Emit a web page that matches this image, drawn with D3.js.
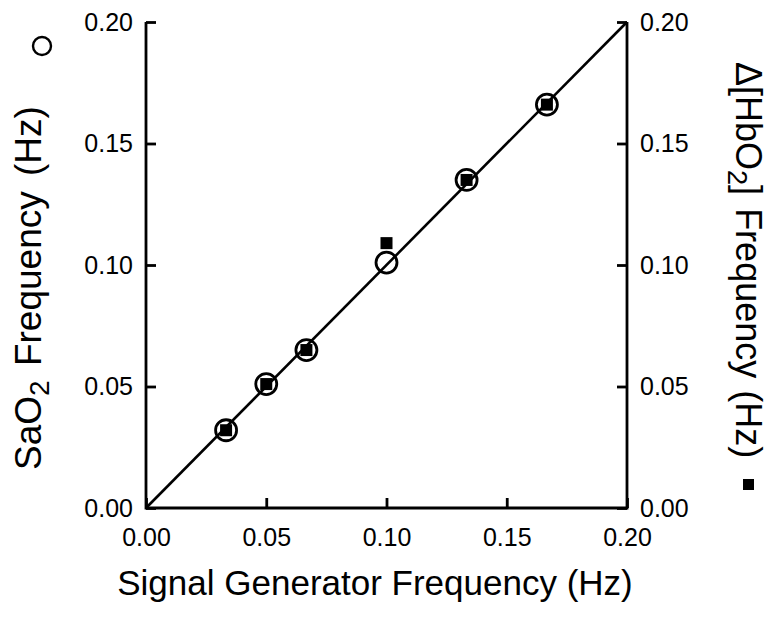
<!DOCTYPE html>
<html>
<head>
<meta charset="utf-8">
<script src="https://cdn.jsdelivr.net/npm/d3@7"></script>
<style>
  body { margin: 0; background: #fff; }
  text { font-family: "Liberation Sans", Arial, Helvetica, sans-serif; fill: #000; }
</style>
</head>
<body>
<div id="vis"></div>
<script>
// signal generator frequency (Hz)
var genFreq = [0.0333, 0.05, 0.0667, 0.10, 0.1333, 0.1667];
// SaO2 frequency (Hz), open circles
var sao2Freq = [0.032, 0.051, 0.065, 0.101, 0.135, 0.166];
// delta HbO2 frequency (Hz), filled squares
var hbo2Freq = [0.032, 0.051, 0.065, 0.109, 0.135, 0.166];
// identity line
var identity = [0, 0.20];
var ticks = [0, 0.05, 0.10, 0.15, 0.20];

var width = 768, height = 626;
var plot = {left: 146, right: 627, top: 22, bottom: 508};

var svg = d3.select("#vis").append("svg")
  .attr("width", width).attr("height", height);

var x = d3.scaleLinear().domain([0, 0.20]).range([plot.left, plot.right]);
var y = d3.scaleLinear().domain([0, 0.20]).range([plot.bottom, plot.top]);
var fmt = d3.format(".2f");

// axes: ticks point inward, no top spine
function styleAxis(g) {
  g.select(".domain").remove();
  g.selectAll(".tick line").attr("stroke", "#000").attr("stroke-width", 2.8);
  g.selectAll(".tick text").style("font-size", "25px").attr("fill", "#000");
}

svg.append("g")
  .attr("transform", "translate(0," + plot.bottom + ")")
  .call(d3.axisTop(x).tickValues(ticks).tickSize(10).tickFormat(""))
  .call(styleAxis);
svg.append("g")
  .attr("transform", "translate(0," + plot.bottom + ")")
  .call(d3.axisBottom(x).tickValues(ticks).tickSize(0).tickPadding(20).tickFormat(fmt))
  .call(styleAxis);

svg.append("g")
  .attr("transform", "translate(" + plot.left + ",0)")
  .call(d3.axisRight(y).tickValues(ticks).tickSize(10).tickFormat(""))
  .call(styleAxis);
svg.append("g")
  .attr("transform", "translate(" + plot.left + ",0)")
  .call(d3.axisLeft(y).tickValues(ticks).tickSize(0).tickPadding(13).tickFormat(fmt))
  .call(styleAxis);

svg.append("g")
  .attr("transform", "translate(" + plot.right + ",0)")
  .call(d3.axisLeft(y).tickValues(ticks).tickSize(10).tickFormat(""))
  .call(styleAxis);
svg.append("g")
  .attr("transform", "translate(" + plot.right + ",0)")
  .call(d3.axisRight(y).tickValues(ticks).tickSize(0).tickPadding(13).tickFormat(fmt))
  .call(styleAxis);

// spines: left, bottom, right
svg.append("path")
  .attr("fill", "none")
  .attr("stroke", "#000")
  .attr("stroke-width", 2.8)
  .attr("d", "M" + x(0) + "," + y(0.20) + "V" + y(0) + "H" + x(0.20) + "V" + y(0.20));

// identity line
svg.append("path")
  .datum(identity)
  .attr("fill", "none")
  .attr("stroke", "#000")
  .attr("stroke-width", 2.6)
  .attr("d", d3.line().x(d => x(d)).y(d => y(d)));

// circles
svg.selectAll(".sao2").data(genFreq).join("circle")
  .attr("class", "sao2")
  .attr("cx", d => x(d))
  .attr("cy", (d, i) => y(sao2Freq[i]))
  .attr("r", 10.5)
  .attr("fill", "none")
  .attr("stroke", "#000")
  .attr("stroke-width", 2.8);

// squares
var sq = 12;
svg.selectAll(".hbo2").data(genFreq).join("rect")
  .attr("class", "hbo2")
  .attr("x", d => x(d) - sq / 2)
  .attr("y", (d, i) => y(hbo2Freq[i]) - sq / 2)
  .attr("width", sq)
  .attr("height", sq)
  .attr("fill", "#000");

// x title
svg.append("text")
  .attr("x", 375).attr("y", 595)
  .attr("text-anchor", "middle")
  .style("font-size", "35px")
  .text("Signal Generator Frequency (Hz)");

// left title
var lt = svg.append("text")
  .attr("transform", "translate(41,470) rotate(-90)")
  .style("font-size", "37px");
lt.append("tspan").text("SaO");
lt.append("tspan").attr("dy", 8).style("font-size", "28px").text("2");
lt.append("tspan").attr("dy", -8).attr("dx", 4).text(" Frequency");
lt.append("tspan").attr("dx", 5).text(" (Hz)");
svg.append("circle")
  .attr("cx", 42).attr("cy", 46).attr("r", 9)
  .attr("fill", "none").attr("stroke", "#000").attr("stroke-width", 2.4);

// right title
var rt = svg.append("text")
  .attr("transform", "translate(736,62) rotate(90)")
  .style("font-size", "36px");
rt.append("tspan").text("\u0394[HbO");
rt.append("tspan").attr("dy", 8).style("font-size", "27px").text("2");
rt.append("tspan").attr("dy", -8).text("]");
rt.append("tspan").attr("dx", 3).text(" Frequency");
rt.append("tspan").attr("dx", 2).text(" (Hz)");
svg.append("rect")
  .attr("x", 743).attr("y", 479).attr("width", 11).attr("height", 11)
  .attr("fill", "#000");
</script>
</body>
</html>
